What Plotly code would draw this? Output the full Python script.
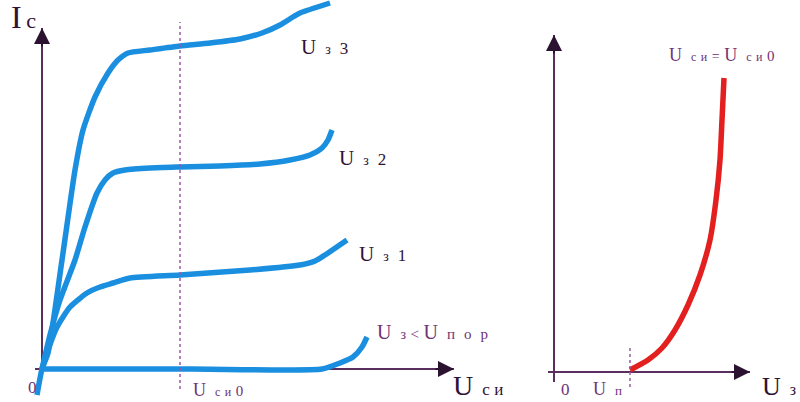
import plotly.graph_objects as go

# ---------------- data (arbitrary units) ----------------
# Output characteristics I_c(U_si) for several gate voltages (left panel)
u_si_g3 = [-0.5, 0.0, 0.6, 2.0, 3.3, 4.1, 5.3, 6.6, 7.6, 8.6, 10.8, 13.8, 16.8, 19.8, 22.0, 23.8, 25.1, 25.8, 28.8]
i_c_g3 = [-2.6, 0.0, 1.6, 10.9, 19.9, 23.9, 27.2, 29.6, 30.9, 31.6, 31.9, 32.3, 32.6, 33.0, 33.6, 34.4, 35.2, 35.6, 36.6]

u_si_g2 = [0.0, 0.8, 1.8, 3.3, 4.3, 5.5, 6.3, 7.1, 8.3, 10.8, 13.8, 17.8, 21.8, 24.8, 26.8, 28.0, 28.6, 29.0]
i_c_g2 = [0.0, 3.4, 6.9, 10.9, 14.2, 17.6, 18.9, 19.6, 19.9, 20.1, 20.2, 20.3, 20.5, 20.9, 21.4, 22.1, 22.9, 23.9]

u_si_g1 = [0.0, 0.5, 1.5, 2.8, 4.5, 5.8, 7.1, 8.8, 13.8, 20.8, 25.8, 27.3, 28.3, 30.5]
i_c_g1 = [0.0, 1.6, 4.2, 6.2, 7.6, 8.2, 8.6, 9.1, 9.4, 9.9, 10.4, 10.8, 11.4, 12.9]

u_si_g0 = [0.0, 15.0, 28.0, 29.8, 31.1, 32.0, 32.5]
i_c_g0 = [0.0, 0.0, 0.0, 0.6, 1.2, 2.2, 3.2]

U_SI0 = 13.8      # U_si0 marker on the left panel
U_POR = 7.6       # threshold voltage on the right panel

# Transfer characteristic I_c(U_z) at U_si = U_si0 (right panel)
u_z = [7.6, 9.4, 10.8, 12.1, 13.4, 14.6, 15.6, 16.2, 16.6, 16.8, 17.0]
i_c_tr = [0.2, 1.2, 2.4, 4.2, 6.7, 9.7, 13.2, 17.2, 21.2, 25.2, 29.4]

# ---------------- styles ----------------
BLUE = "#1b8fdf"
RED = "#e3201f"
AX = "#5a2e5e"
DOT = "#a055a5"
TXT = "#2e1234"
TXT2 = "#6e3274"
FONT = "Liberation Serif, DejaVu Serif, serif"
NB = "\u00a0"

fig = go.Figure()


def curve(x, y, color, xa="x", ya="y"):
    fig.add_trace(go.Scatter(x=x, y=y, mode="lines", xaxis=xa, yaxis=ya,
                             line=dict(color=color, width=5.5, shape="spline", smoothing=0.6),
                             hoverinfo="skip", showlegend=False))


curve(u_si_g3, i_c_g3, BLUE)
curve(u_si_g2, i_c_g2, BLUE)
curve(u_si_g1, i_c_g1, BLUE)
curve(u_si_g0, i_c_g0, BLUE)
curve(u_z, i_c_tr, RED, "x2", "y2")

shapes = []
annotations = []


def axis_arrow(x0, y0, x1, y1, xr, yr):
    # shaft under the curves
    shapes.append(dict(type="line", xref=xr, yref=yr, x0=x0, y0=y0, x1=x1, y1=y1,
                       line=dict(color=AX, width=2), layer="below"))
    # arrowhead
    dx = (x1 - x0)
    dy = (y1 - y0)
    L = (dx ** 2 + dy ** 2) ** 0.5
    annotations.append(dict(x=x1, y=y1, ax=x1 - dx / L * 2.0, ay=y1 - dy / L * 2.0,
                            xref=xr, yref=yr, axref=xr, ayref=yr, text="",
                            showarrow=True, arrowhead=2, arrowsize=1.6, arrowwidth=2,
                            arrowcolor="#2a1230", standoff=0))


# left axes
axis_arrow(-0.7, 0.0, 41.2, 0.0, "x", "y")
axis_arrow(0.0, -0.4, 0.0, 34.1, "x", "y")
# right axes
axis_arrow(-0.6, 0.0, 19.6, 0.0, "x2", "y2")
axis_arrow(0.0, -1.0, 0.0, 33.7, "x2", "y2")

# dotted reference lines
shapes.append(dict(type="line", xref="x", yref="y", x0=U_SI0, x1=U_SI0, y0=-2.0, y1=34.7,
                   line=dict(color=DOT, width=1.5, dash="dot"), layer="above"))
shapes.append(dict(type="line", xref="x2", yref="y2", x0=U_POR, x1=U_POR, y0=-1.5, y1=2.7,
                   line=dict(color=DOT, width=1.5, dash="dot"), layer="above"))


def sp(t, s):
    return f'<span style="font-size:{s}px">{t}</span>'


def label(x, y, text, xr, yr, color=TXT, size=18, xanchor="left"):
    annotations.append(dict(x=x, y=y, xref=xr, yref=yr, text=text, showarrow=False,
                            xanchor=xanchor, yanchor="middle",
                            font=dict(family=FONT, size=size, color=color)))


# left labels
label(-3.3, 35.2, sp("I", 32) + NB + sp("с", 22), "x", "y")
label(25.7, 32.2, sp("U", 21) + NB * 2 + sp("з", 14) + NB * 2 + sp("3", 17), "x", "y")
label(29.5, 21.1, sp("U", 21) + NB * 2 + sp("з", 14) + NB * 2 + sp("2", 17), "x", "y")
label(31.5, 11.5, sp("U", 21) + NB * 2 + sp("з", 14) + NB * 2 + sp("1", 17), "x", "y")
label(33.3, 3.7, sp("U", 20) + NB * 2 + sp("з", 14) + NB + sp("&lt;", 15) + NB + sp("U", 20)
      + NB * 2 + sp("п", 15) + NB * 2 + sp("о", 15) + NB * 2 + sp("р", 15), "x", "y", color=TXT2)
label(-1.0, -1.8, "0", "x", "y", color=TXT2, size=17, xanchor="center")
label(14.9, -2.1, sp("U", 18) + NB * 2 + sp("с", 12) + NB + sp("и", 12) + NB + sp("0", 15),
      "x", "y", color=TXT2)
label(40.9, -1.6, sp("U", 28) + NB * 2 + sp("с", 17) + NB + sp("и", 17), "x", "y")

# right labels
label(-4.3, 34.6, sp("I", 28) + NB + sp("с", 20), "x2", "y2")
label(11.3, 31.7, sp("U", 18) + NB * 2 + sp("с", 12) + NB + sp("и", 12) + NB + sp("=", 14) + NB
      + sp("U", 18) + NB * 2 + sp("с", 12) + NB + sp("и", 12) + NB + sp("0", 15),
      "x2", "y2", color=TXT2)
label(1.1, -1.7, "0", "x2", "y2", color=TXT2, size=17, xanchor="center")
label(3.7, -1.7, sp("U", 18) + NB * 2 + sp("п", 13), "x2", "y2", color=TXT2)
label(20.6, -1.4, sp("U", 26) + NB * 2 + sp("з", 16), "x2", "y2")

fig.update_layout(
    width=800, height=402,
    margin=dict(l=0, r=0, t=0, b=0),
    paper_bgcolor="white", plot_bgcolor="white",
    showlegend=False,
    xaxis=dict(domain=[0.0, 0.6], range=[-4.2, 43.8], visible=False, fixedrange=True),
    yaxis=dict(domain=[0.0, 1.0], range=[-3.3, 36.9], visible=False, fixedrange=True),
    xaxis2=dict(domain=[0.65, 1.0], range=[-3.4, 24.6], visible=False, fixedrange=True),
    yaxis2=dict(domain=[0.0, 1.0], range=[-3.0, 37.2], visible=False, fixedrange=True,
                anchor="x2"),
    shapes=shapes,
    annotations=annotations,
)
fig.data[4].update(xaxis="x2", yaxis="y2")

fig.write_html("out.html", config={"displayModeBar": False},
               post_script="document.body.style.margin='0';document.body.style.overflow='hidden';")
